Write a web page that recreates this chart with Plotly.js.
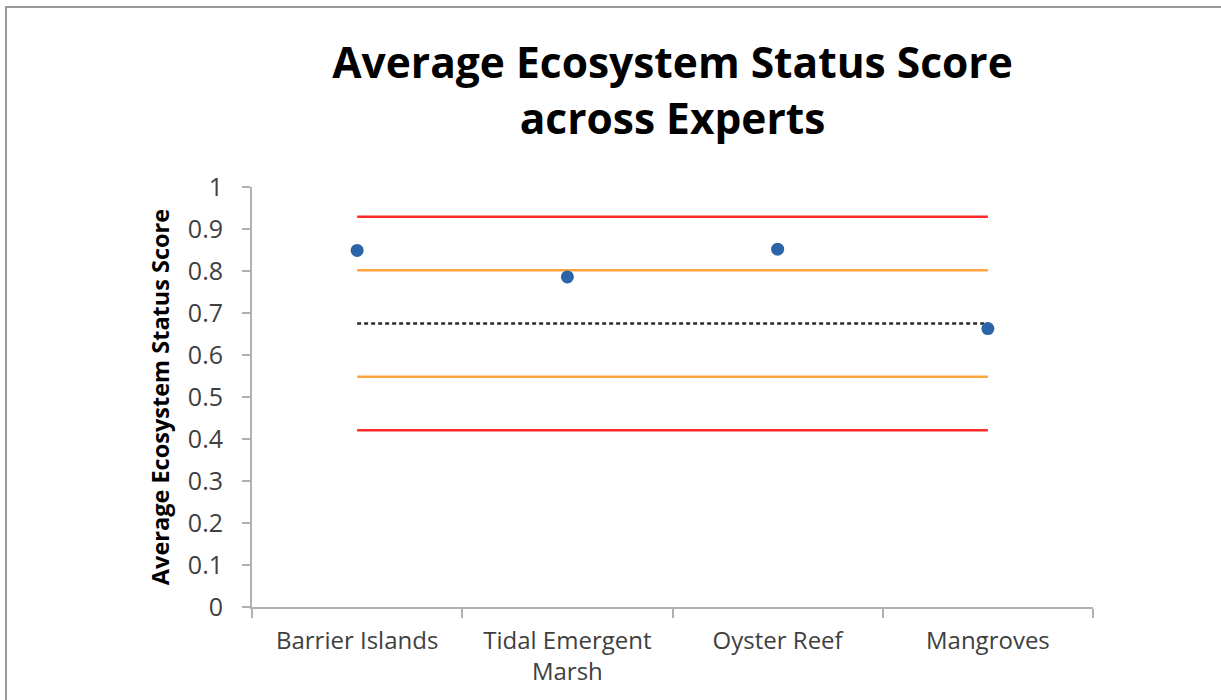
<!DOCTYPE html>
<html>
<head>
<meta charset="utf-8">
<script src="https://cdn.plot.ly/plotly-3.0.1.min.js"></script>
<style>
  html, body { margin: 0; padding: 0; background: #fff; }
  #wrap { position: relative; width: 1221px; height: 700px; }
  #chart { position: absolute; left: 0; top: 0; width: 1221px; height: 700px; }
  #frame { position: absolute; left: 5px; top: 6px; width: 1216px; height: 694px;
           border-left: 2px solid #9a9a9a; border-top: 2px solid #9a9a9a; pointer-events: none; }
</style>
</head>
<body>
<div id="wrap">
  <div id="chart"></div>
  <div id="frame"></div>
</div>
<script>
const categories = ["Barrier Islands", "Tidal Emergent<br>Marsh", "Oyster Reef", "Mangroves"];
const avgScores = [0.849, 0.786, 0.852, 0.663];
const meanLine = [0.675, 0.675, 0.675, 0.675];
const upper1 = [0.802, 0.802, 0.802, 0.802];
const lower1 = [0.548, 0.548, 0.548, 0.548];
const upper2 = [0.929, 0.929, 0.929, 0.929];
const lower2 = [0.421, 0.421, 0.421, 0.421];
const yTicks = [0, 0.1, 0.2, 0.3, 0.4, 0.5, 0.6, 0.7, 0.8, 0.9, 1];
const yTickText = ["0", "0.1", "0.2", "0.3", "0.4", "0.5", "0.6", "0.7", "0.8", "0.9", "1"];

function hline(y, color, dash) {
  return { x: categories, y: y, type: "scatter", mode: "lines",
           line: { color: color, width: 2.5, dash: dash || "solid" },
           hoverinfo: "skip", showlegend: false };
}

const traces = [
  hline(upper2, "#ff2a2a"),
  hline(lower2, "#ff2a2a"),
  hline(upper1, "#ffa43f"),
  hline(lower1, "#ffa43f"),
  hline(meanLine, "#2b2b2b", "4px,3px"),
  { x: categories, y: avgScores, type: "scatter", mode: "markers",
    marker: { color: "#2c64a8", size: 13 }, showlegend: false }
];

const layout = {
  width: 1221, height: 700,
  paper_bgcolor: "#ffffff", plot_bgcolor: "#ffffff",
  margin: { l: 252, r: 128, t: 187, b: 93 },
  showlegend: false,
  title: {
    text: "<b>Average Ecosystem Status Score<br>across Experts</b>",
    font: { family: "Open Sans, sans-serif", size: 42.5, color: "#000" },
    x: 0.5, xanchor: "center", xref: "paper",
    y: 0.888, yanchor: "middle", yref: "container"
  },
  xaxis: {
    type: "category", range: [-0.5, 3.5],
    showline: true, linecolor: "#b0b0b0", linewidth: 2,
    showgrid: false, zeroline: false,
    ticks: "outside", tickson: "boundaries", ticklen: 9, tickcolor: "#b0b0b0", tickwidth: 2,
    ticklabelstandoff: 11,
    tickfont: { family: "Open Sans, sans-serif", size: 24, color: "#404040" },
    fixedrange: true
  },
  yaxis: {
    range: [0, 1], tickvals: yTicks, ticktext: yTickText,
    showline: true, linecolor: "#b0b0b0", linewidth: 2,
    showgrid: false, zeroline: false,
    ticks: "outside", ticklen: 8, tickcolor: "#b0b0b0", tickwidth: 2,
    ticklabelstandoff: 14,
    tickfont: { family: "Open Sans, sans-serif", size: 25, color: "#404040" },
    title: { text: "<b>Average Ecosystem Status Score</b>",
             font: { family: "Open Sans, sans-serif", size: 23.5, color: "#000" }, standoff: 12 },
    fixedrange: true
  }
};

Plotly.newPlot("chart", traces, layout, { displayModeBar: false, staticPlot: true });
</script>
</body>
</html>
